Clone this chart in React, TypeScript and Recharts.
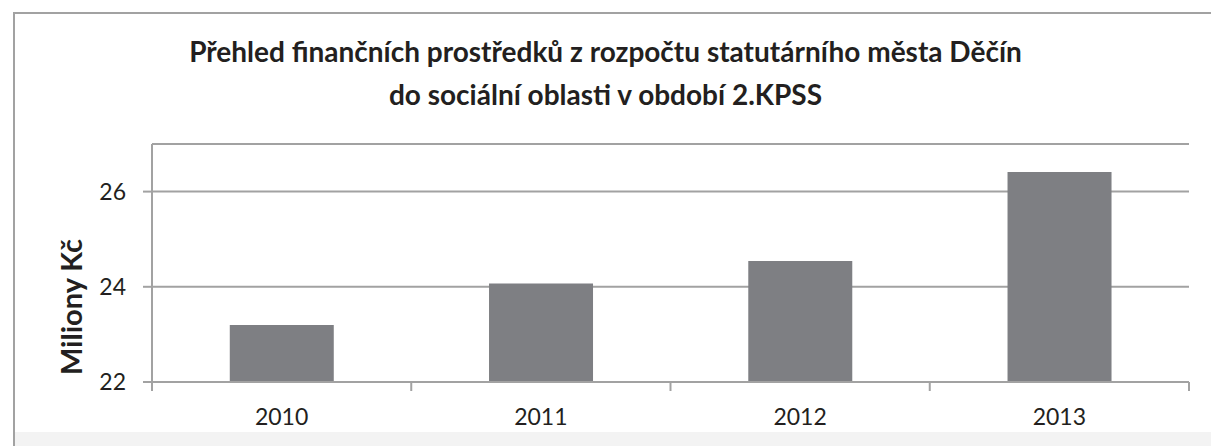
import { BarChart, Bar, XAxis, YAxis, CartesianGrid } from 'recharts';

const years = ['2010', '2011', '2012', '2013'];
const amounts = [23.2, 24.07, 24.54, 26.41];
const yTicks = [22, 24, 26];

const data = years.map((year, i) => ({ year, value: amounts[i] }));

const FONT = 'Lato, "Open Sans", sans-serif';
const GRID = '#a2a2a2';
const TEXT = '#231f20';

const XTick = (props: any) => {
    const { x, y, payload, index } = props;
    const half = payload.offset || 129.6;
    const last = index === years.length - 1;
    return (
        <g>
            <line x1={x - half} y1={y} x2={x - half} y2={y + 9} stroke={GRID} strokeWidth={2} />
            {last && <line x1={x + half} y1={y} x2={x + half} y2={y + 9} stroke={GRID} strokeWidth={2} />}
            <text x={x} y={y + 43} textAnchor="middle" fill={TEXT} fontSize={23} fontFamily={FONT}>
                {payload.value}
            </text>
        </g>
    );
};

const YLabel = (props: any) => {
    const { viewBox } = props;
    const cx = viewBox.x + 70;
    const cy = viewBox.y + viewBox.height / 2 + 44;
    return (
        <text x={cx} y={cy} transform={`rotate(-90, ${cx}, ${cy})`} textAnchor="middle" dominantBaseline="central"
            fill={TEXT} fontSize={29} fontWeight="bold" fontFamily={FONT}>
            Miliony Kč
        </text>
    );
};

export default function App() {
    return (
        <div style={{ position: 'absolute', left: 0, top: 0, width: 1211, height: 446, background: '#fff', overflow: 'hidden' }}>
            <style>{'html,body{margin:0;overflow:hidden}'}</style>
            <div style={{ position: 'absolute', left: 13, top: 12, right: 0, bottom: 0, borderLeft: `2px solid ${GRID}`, borderTop: `2px solid ${GRID}` }} />
            <div style={{ position: 'absolute', left: 15, right: 0, top: 432, height: 14, background: '#f3f3f3' }} />
            <div style={{ position: 'absolute', left: 0, width: 1211, top: 30, textAlign: 'center', fontFamily: FONT, fontWeight: 'bold', fontSize: 28, lineHeight: '43px', color: TEXT }}>
                Přehled finančních prostředků z rozpočtu statutárního města Děčín<br />
                do sociální oblasti v období 2.KPSS
            </div>
            <div style={{ position: 'absolute', left: 0, top: 0 }}>
                <BarChart width={1211} height={446} data={data} barCategoryGap="30%"
                    margin={{ top: 144, right: 22, bottom: 14, left: 0 }}>
                    <CartesianGrid vertical={false} horizontal={true} stroke={GRID} strokeWidth={2} />
                    <XAxis dataKey="year" height={50} tickSize={0} tickMargin={0} tickLine={false}
                        axisLine={{ stroke: GRID, strokeWidth: 2 }} tick={<XTick />} interval={0} />
                    <YAxis domain={[22, 27]} ticks={yTicks} width={152} tickSize={9} tickMargin={17}
                        axisLine={{ stroke: GRID, strokeWidth: 2 }} tickLine={{ stroke: GRID, strokeWidth: 2 }}
                        tick={{ fill: TEXT, fontSize: 23, fontFamily: FONT }}
                        label={<YLabel />} />
                    <Bar dataKey="value" fill="#7e7f83" isAnimationActive={false} />
                </BarChart>
            </div>
        </div>
    );
}
